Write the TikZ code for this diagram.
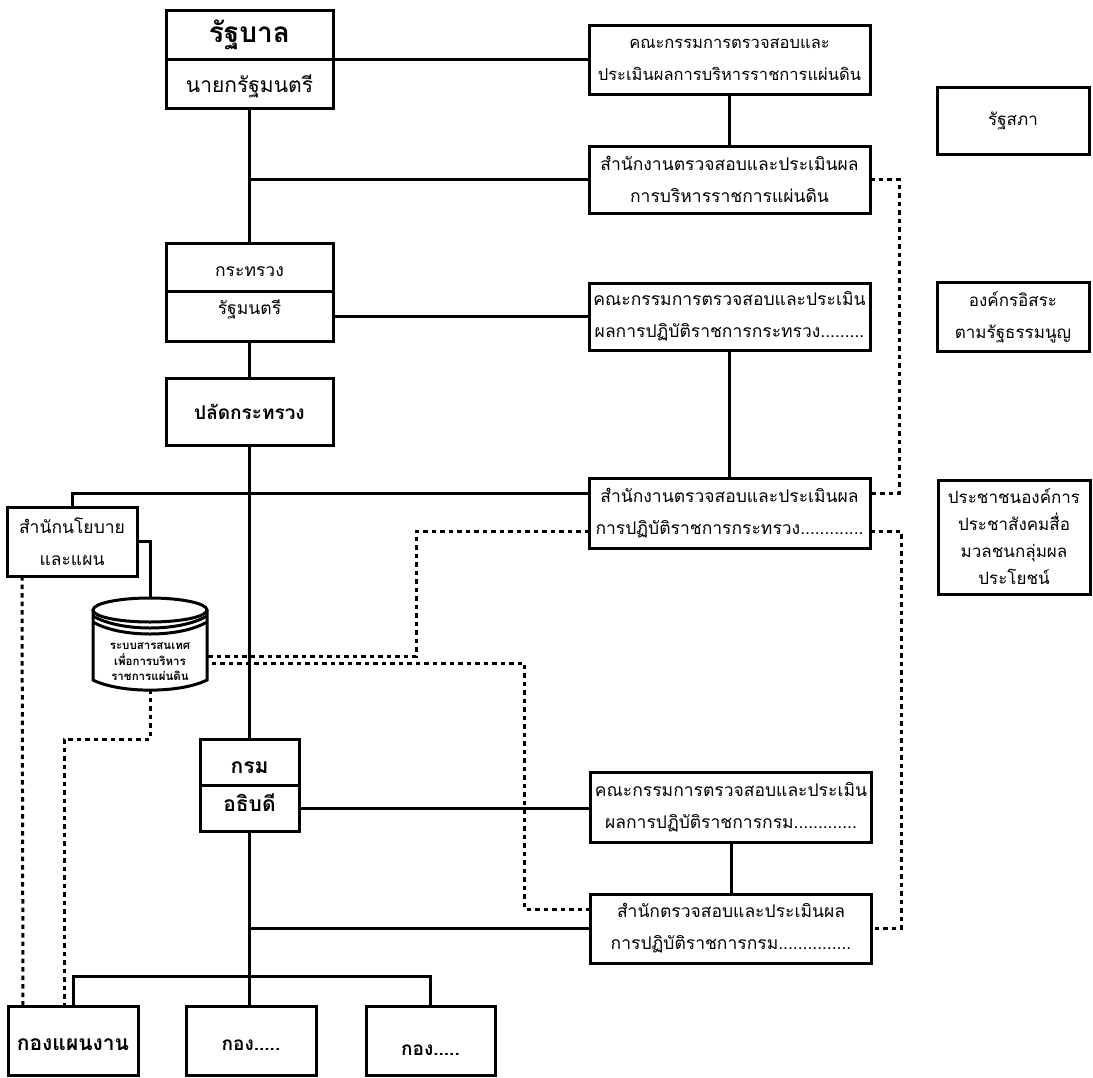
\documentclass[tikz,border=0pt]{standalone}
\usepackage{fontspec}
\setmainfont[Script=Thai]{Loma}
\usetikzlibrary{positioning}
\begin{document}
\begin{tikzpicture}[x=1pt, y=-1pt, line width=3pt,
  box/.style={draw, outer sep=0pt, inner sep=0pt, align=center, minimum width=281pt, minimum height=69pt, font=\fontsize{17.5}{32}\selectfont},
  side/.style={box, minimum width=152pt, font=\fontsize{17}{32}\selectfont},
  head/.style={box, minimum width=167pt, minimum height=49pt},
  leaf/.style={box, minimum width=130pt, text height=20pt, font=\fontsize{19}{32}\selectfont\bfseries},
  dept/.style={box, minimum width=99pt, minimum height=46pt, font=\fontsize{21}{32}\selectfont\bfseries},
  link/.style={dashed, dash pattern=on 4.5pt off 4pt}]
\useasboundingbox (0,0) rectangle (1093,1077);
% left column
\node (govt) [head, font=\fontsize{28}{30}\selectfont\bfseries, text height=24pt] at (249.5,34.5) {รัฐบาล};
\node (pm) [head, below=0pt of govt, font=\fontsize{21}{30}\selectfont, text height=24pt] {นายกรัฐมนตรี};
\node (moi) [head, minimum height=48pt, text height=20pt] at (249.5,267) {กระทรวง};
\node (minister) [head, minimum height=50pt, below=0pt of moi, text depth=18pt] {รัฐมนตรี};
\node (perm) [head, minimum height=67pt, below=37pt of minister, font=\fontsize{19}{32}\selectfont\bfseries] {ปลัดกระทรวง};
\node (dep) [dept, text height=24pt] at (249.5,762) {กรม};
\node (dg) [dept, below=0pt of dep, text depth=10pt] {อธิบดี};
% right column
\node (board) [box, font=\fontsize{16.5}{32}\selectfont] at (729.5,59.5) {คณะกรรมการตรวจสอบและ\\ประเมินผลการบริหารราชการแผ่นดิน};
\node (office) [box, minimum height=67pt, below=52pt of board] {สำนักงานตรวจสอบและประเมินผล\\การบริหารราชการแผ่นดิน};
\node (boardmoi) [box, minimum height=67pt] at (729.5,316.5) {คณะกรรมการตรวจสอบและประเมิน\\ผลการปฏิบัติราชการกระทรวง.........};
\node (officemoi) [box, minimum height=70pt] at (729.5,513) {สำนักงานตรวจสอบและประเมินผล\\การปฏิบัติราชการกระทรวง.............};
\node (boarddep) [box, minimum height=70pt] at (731,807) {คณะกรรมการตรวจสอบและประเมิน\\ผลการปฏิบัติราชการกรม.............};
\node (officedep) [box, below=52pt of boarddep] {สำนักตรวจสอบและประเมินผล\\การปฏิบัติราชการกรม...............};
% outside bodies
\node (senate) [side, minimum height=67pt] at (1013,120.5) {รัฐสภา};
\node (indep) [side] at (1013,317) {องค์กรอิสระ\\ตามรัฐธรรมนูญ};
\node (people) [side, minimum height=114pt, font=\fontsize{17}{27}\selectfont] at (1014,537) {ประชาชนองค์การ\\ประชาสังคมสื่อ\\มวลชนกลุ่มผล\\ประโยชน์};
% policy and database
\node (policy) [box, minimum width=130pt] at (72,541.5) {สำนักนโยบาย\\และแผน};
\node (infosys) [minimum width=114pt, minimum height=91pt, outer sep=0pt, inner sep=0pt] at (150,643.5) {};
\node (infotext) [align=center, inner sep=0pt, font=\fontsize{11.5}{15.5}\selectfont\bfseries] at (150,662) {ระบบสารสนเทศ\\เพื่อการบริหาร\\ราชการแผ่นดิน};
\begin{scope}[shift={(infosys.center)}]
\draw (0,-33.5) ellipse [x radius=57pt, y radius=12pt];
\draw (-57,-33.5) -- (-57,36.5) .. controls (-30,50) and (30,50) .. (57,36.5) -- (57,-33.5);
\draw (-57,-27.5) .. controls (-30,-11.5) and (30,-11.5) .. (57,-27.5);
\draw (-57,-21.5) .. controls (-30,-5.5) and (30,-5.5) .. (57,-21.5);
\end{scope}
% bottom row
\node (plan) [leaf, font=\fontsize{21}{32}\selectfont\bfseries] at (73,1040.5) {กองแผนงาน};
\node (divb) [leaf] at (251,1040.5) {กอง.....};
\node (divc) [leaf, minimum width=129pt, text height=30pt] at (430.5,1040.5) {กอง.....};
\coordinate (split) at (249.5,976);
% solid lines
\draw (pm) -- (moi);
\draw (minister) -- (perm);
\draw (perm) -- (dep);
\draw (dg) -- (dg |- divb.north);
\draw (govt.south east) -- (govt.south east -| board.west);
\draw (office.west) -- (office.west -| pm.south);
\draw (minister.east) -- (minister.east -| boardmoi.west);
\draw (dg.east) -- (dg.east -| boarddep.west);
\draw (officedep.west) -- (officedep.west -| dg.south);
\draw (board) -- (office);
\draw (boardmoi) -- (officemoi);
\draw (boarddep) -- (officedep);
\draw (policy.north) |- ([yshift=20pt]officemoi.west);
\draw (policy.east) -| (infosys.north);
\draw (plan.north) |- (split) -| (divc.north);
% dashed lines
\draw[link] (office.east) -- ++(29,0) |- ([yshift=20pt]officemoi.east);
\draw[link] ([yshift=-18pt]officemoi.east) -- ++(31,0) |- (officedep.east);
\draw[link] ([yshift=-18pt]officemoi.west) -- ++(-173,0) |- ([yshift=-12.5pt]infosys.east);
\draw[link] ([yshift=19.5pt]officedep.west) -- ++(-66,0) |- ([yshift=-19.5pt]infosys.east);
\draw[link] ([xshift=15pt]policy.south west) -- ([xshift=15pt]plan.north west);
\draw[link] (infosys.south) -- ++(0,50) -| ([xshift=56pt]plan.north west);
\end{tikzpicture}
\end{document}
